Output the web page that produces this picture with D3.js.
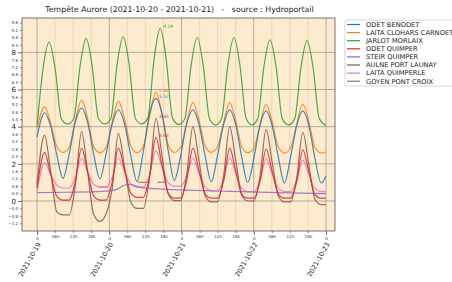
<!DOCTYPE html>
<html>
<head>
<meta charset="utf-8">
<script src="https://cdn.jsdelivr.net/npm/d3@7"></script>
<style>
  body { margin: 0; background: #fff; }
  text { font-family: "DejaVu Sans", sans-serif; }
</style>
</head>
<body>
<svg id="chart" width="452" height="282"></svg>
<script>
// ------ DATA (hours after 2021-10-19 00:00) ------

// sample times for the estuary / coastal stations
const coastTimes = [0, 2.5, 4.5, 6.6, 8.6, 10.7, 12.7, 14.8, 16.8, 18.8, 20.9, 22.9, 25.0,
  27.0, 29.1, 31.2, 33.2, 35.3, 37.4, 39.5, 41.5, 43.6, 45.6, 47.7, 49.7,
  51.8, 53.8, 55.9, 57.9, 59.9, 62.0, 64.0, 66.0, 68.0, 70.0, 72.1, 74.1,
  76.1, 78.1, 80.2, 82.2, 84.2, 86.3, 88.3, 90.3, 92.3, 94.4, 96.0];

// Morlaix peaks a bit later than the others
const morlaixTimes = [0, 2.0, 4.0, 6.0, 8.1, 10.2, 12.2, 14.3, 16.3, 18.3, 20.4, 22.5,
  24.5, 26.6, 28.6, 30.6, 32.7, 34.8, 36.8, 38.9, 40.9, 42.9, 45.0, 47.1,
  49.1, 51.2, 53.2, 55.2, 57.3, 59.3, 61.3, 63.4, 65.4, 67.4, 69.5, 71.4,
  73.3, 75.4, 77.4, 79.4, 81.5, 83.6, 85.6, 87.7, 89.7, 91.7, 93.8, 96.0];

const steirTimes = [0, 10, 20, 26, 29, 31, 34, 40, 50, 64, 80, 96];
const goyenTimes = [20.5, 23.5, 24, 33.5, 37.5, 38, 40, 43];

const odetBenodet = [3.45, 4.75, 4.04, 2.46, 1.22, 2.54, 4.24, 5.0, 4.24, 2.53, 1.2, 2.5, 4.16,
  4.9, 4.13, 2.4, 1.05, 2.66, 4.7, 5.52, 4.7, 2.7, 1.1, 2.43, 4.14,
  4.9, 4.13, 2.39, 1.04, 2.39, 4.13, 4.9, 4.12, 2.37, 1.0, 2.35, 4.08,
  4.85, 4.07, 2.33, 0.97, 2.33, 4.07, 4.85, 4.07, 2.33, 0.97, 1.35];

const laitaClohars = [3.9, 5.08, 4.22, 2.92, 2.62, 2.9, 4.31, 5.44, 4.45, 2.94, 2.6, 2.88, 4.27,
  5.38, 4.41, 2.93, 2.6, 2.93, 4.56, 5.86, 4.73, 3.01, 2.62, 2.89, 4.23,
  5.3, 4.36, 2.94, 2.62, 2.89, 4.23, 5.3, 4.36, 2.92, 2.6, 2.86, 4.16,
  5.2, 4.28, 2.89, 2.58, 2.84, 4.15, 5.2, 4.28, 2.89, 2.58, 2.65];

const jarlotMorlaix = [4.0, 7.14, 8.55, 7.14, 4.41, 4.15, 4.43, 7.28, 8.75, 7.28, 4.43, 4.15,
  4.43, 7.35, 8.85, 7.35, 4.43, 4.15, 4.46, 7.65, 9.29, 7.65, 4.46, 4.12,
  4.43, 7.31, 8.8, 7.31, 4.43, 4.1, 4.43, 7.31, 8.8, 7.31, 4.43, 4.1,
  4.42, 7.26, 8.67, 7.26, 4.42, 4.1, 4.42, 7.2, 8.63, 7.2, 4.42, 4.05];

const odetQuimper = [0.7, 2.6, 1.45, 0.25, 0.05, 0.05, 1.03, 2.85, 1.59, 0.27, 0.05, 0.05, 1.03,
  2.85, 1.66, 0.41, 0.2, 0.2, 1.33, 3.42, 1.95, 0.41, 0.15, 0.15, 1.1,
  2.85, 1.64, 0.37, 0.15, 0.15, 1.1, 2.85, 1.64, 0.37, 0.15, 0.15, 1.08,
  2.8, 1.61, 0.36, 0.15, 0.15, 1.06, 2.75, 1.58, 0.35, 0.15, 0.15];

const steirQuimper = [0.45, 0.47, 0.5, 0.6, 0.85, 0.9, 0.75, 0.65, 0.58, 0.52, 0.45, 0.4];

const aulnePortLaunay = [0.9, 3.55, 1.62, -0.6, -0.75, -0.75, 0.82, 3.73, 1.56, -0.71, -1.1, -0.7, 0.7,
  3.64, 1.82, -0.08, -0.4, -0.4, 1.3, 4.45, 2.46, 0.37, 0.02, 0.02, 1.41,
  4.0, 2.18, 0.27, -0.05, -0.05, 1.37, 4.0, 2.2, 0.32, 0.0, 0.0, 1.35,
  3.85, 2.1, 0.26, -0.05, -0.05, 1.26, 3.7, 1.95, 0.11, -0.2, -0.2];

const laitaQuimperle = [0.5, 2.05, 1.44, 0.84, 0.7, 0.7, 1.26, 2.3, 1.6, 0.9, 0.75, 0.75, 1.29,
  2.3, 1.6, 0.9, 0.75, 0.75, 1.43, 2.7, 1.85, 0.99, 0.8, 0.8, 1.33,
  2.3, 1.51, 0.73, 0.55, 0.55, 1.16, 2.3, 1.49, 0.68, 0.5, 0.5, 1.11,
  2.25, 1.46, 0.68, 0.5, 0.5, 1.1, 2.2, 1.44, 0.67, 0.5, 0.5];

// null = no measure
const goyenPontCroix = [0.75, 0.75, null, 1.0, 1.0, null, 1.0, 1.02];

const stationNames = ['ODET BENODET', 'LAITA CLOHARS CARNOET', 'JARLOT MORLAIX', 'ODET QUIMPER',
  'STEIR QUIMPER', 'AULNE PORT LAUNAY', 'LAITA QUIMPERLE', 'GOYEN PONT CROIX'];
const stationColors = ['#1f77b4', '#ff7f0e', '#2ca02c', '#d62728',
  '#9467bd', '#8c564b', '#e377c2', '#7f7f7f'];

// stations whose storm peak gets a label
const labelled = ['JARLOT MORLAIX', 'LAITA CLOHARS CARNOET', 'ODET BENODET', 'AULNE PORT LAUNAY', 'ODET QUIMPER'];

const yMinorTicks = d3.range(-12, 97, 4).map(d => d / 10).filter(d => d % 2 !== 0);
const yMajorTicks = [0, 2, 4, 6, 8];

// ------ BUILD SERIES ------

const t0 = Date.UTC(2021, 9, 19);
const toDate = h => new Date(t0 + h * 3600e3);

const series = [
  {times: coastTimes, values: odetBenodet},
  {times: coastTimes, values: laitaClohars},
  {times: morlaixTimes, values: jarlotMorlaix},
  {times: coastTimes, values: odetQuimper},
  {times: steirTimes, values: steirQuimper},
  {times: coastTimes, values: aulnePortLaunay},
  {times: coastTimes, values: laitaQuimperle},
  {times: goyenTimes, values: goyenPontCroix},
].map((s, i) => ({
  name: stationNames[i],
  color: stationColors[i],
  points: s.times.map((t, j) => ({date: toDate(t), value: s.values[j]}))
}));

// ------ CHART ------

const margin = {top: 18, right: 117, bottom: 51, left: 22};
const W = 452, H = 282;
const width = W - margin.left - margin.right,
      height = H - margin.top - margin.bottom;

const svg = d3.select('#chart');

const x = d3.scaleUtc()
  .domain([toDate(-5), toDate(99)])
  .range([margin.left, margin.left + width]);

const y = d3.scaleLinear()
  .domain([-1.615, 9.85])
  .range([margin.top + height, margin.top]);

// title
svg.append('text')
  .attr('x', margin.left + width / 2 + 1)
  .attr('y', 12)
  .attr('text-anchor', 'middle')
  .attr('xml:space', 'preserve')
  .style('font-size', '7.8px')
  .attr('fill', '#222')
  .text('Tempête Aurore (2021-10-20 - 2021-10-21)   -   source : Hydroportail');

// plot background
svg.append('rect')
  .attr('x', margin.left).attr('y', margin.top)
  .attr('width', width).attr('height', height)
  .attr('fill', '#fdebd0');

// grid
const xTicks = d3.utcHour.every(6).range(toDate(-5), toDate(99));
svg.append('g').selectAll('line')
  .data(xTicks)
  .join('line')
    .attr('x1', d => x(d)).attr('x2', d => x(d))
    .attr('y1', margin.top).attr('y2', margin.top + height)
    .attr('stroke', d => d.getUTCHours() === 0 ? '#aaa39a' : '#ead1ae')
    .attr('stroke-width', d => d.getUTCHours() === 0 ? 0.9 : 0.8);

svg.append('g').selectAll('line')
  .data(yMajorTicks)
  .join('line')
    .attr('x1', margin.left).attr('x2', margin.left + width)
    .attr('y1', d => y(d)).attr('y2', d => y(d))
    .attr('stroke', '#aaa39a')
    .attr('stroke-width', 0.9);

// lines
svg.append('clipPath').attr('id', 'clip')
  .append('rect')
  .attr('x', margin.left).attr('y', margin.top)
  .attr('width', width).attr('height', height);

const line = d3.line()
  .defined(d => d.value !== null)
  .x(d => x(d.date))
  .y(d => y(d.value))
  .curve(d3.curveMonotoneX);

// draw in reverse order so the first stations end up on top
svg.append('g')
  .attr('clip-path', 'url(#clip)')
  .selectAll('path')
  .data(series.slice().reverse())
  .join('path')
    .attr('fill', 'none')
    .attr('stroke', d => d.color)
    .attr('stroke-opacity', 0.85)
    .attr('stroke-width', 1.2)
    .attr('stroke-linejoin', 'round')
    .attr('d', d => line(d.points));

// peak labels
const peaks = series.filter(s => labelled.includes(s.name))
  .map(s => ({color: s.color, p: d3.greatest(s.points, d => d.value)}));
svg.append('g').selectAll('text')
  .data(peaks)
  .join('text')
    .attr('x', d => x(d.p.date) + 3)
    .attr('y', d => y(d.p.value) - 0.5)
    .style('font-size', '4.5px')
    .attr('fill', d => d.color)
    .text(d => d.p.value.toFixed(2));

// frame
svg.append('rect')
  .attr('x', margin.left).attr('y', margin.top)
  .attr('width', width).attr('height', height)
  .attr('fill', 'none')
  .attr('stroke', '#555')
  .attr('stroke-width', 0.8);

// y axis
const yMinor = svg.append('g')
  .attr('transform', `translate(${margin.left},0)`)
  .call(d3.axisLeft(y).tickValues(yMinorTicks).tickSize(2).tickPadding(2).tickFormat(d3.format('.1f')));
yMinor.select('.domain').remove();
yMinor.selectAll('text').style('font-size', '4px').attr('fill', '#333');
yMinor.selectAll('line').attr('stroke', '#444').attr('stroke-width', 0.6);

const yMajor = svg.append('g')
  .attr('transform', `translate(${margin.left},0)`)
  .call(d3.axisLeft(y).tickValues(yMajorTicks).tickSize(4).tickPadding(2).tickFormat(d3.format('d')));
yMajor.select('.domain').remove();
yMajor.selectAll('text').style('font-size', '7px').attr('fill', '#222');
yMajor.selectAll('line').attr('stroke', '#444').attr('stroke-width', 0.8);

// x axis
const hourTicks = xTicks.filter(d => d.getUTCHours() !== 0);
const dayTicks = xTicks.filter(d => d.getUTCHours() === 0);

const xMinor = svg.append('g')
  .attr('transform', `translate(0,${margin.top + height})`)
  .call(d3.axisBottom(x).tickValues(hourTicks).tickSize(2).tickPadding(2)
    .tickFormat(d => d3.utcFormat('%H')(d) + 'h'));
xMinor.select('.domain').remove();
xMinor.selectAll('text').style('font-size', '4px').attr('fill', '#333');
xMinor.selectAll('line').attr('stroke', '#444').attr('stroke-width', 0.6);

const xMajor = svg.append('g')
  .attr('transform', `translate(0,${margin.top + height})`)
  .call(d3.axisBottom(x).tickValues(dayTicks).tickSize(4).tickPadding(2).tickFormat(() => '0'));
xMajor.select('.domain').remove();
xMajor.selectAll('text').style('font-size', '4px').attr('fill', '#333');
xMajor.selectAll('line').attr('stroke', '#444').attr('stroke-width', 0.8);

svg.append('g').selectAll('text')
  .data(dayTicks)
  .join('text')
    .attr('transform', d => `translate(${x(d) + 2},${margin.top + height + 12}) rotate(-60)`)
    .attr('text-anchor', 'end')
    .attr('dy', '0.35em')
    .style('font-size', '6.6px')
    .attr('fill', '#222')
    .text(d3.utcFormat('%Y-%m-%d'));

// legend
const legend = svg.append('g').attr('transform', 'translate(345,20)');
legend.append('rect')
  .attr('width', 120).attr('height', 66)
  .attr('rx', 1.5)
  .attr('fill', '#fff')
  .attr('stroke', '#ccc')
  .attr('stroke-width', 0.8);

const item = legend.selectAll('g')
  .data(series)
  .join('g')
    .attr('transform', (d, i) => `translate(0,${4.5 + i * 8.1})`);
item.append('line')
  .attr('x1', 2).attr('x2', 15)
  .attr('stroke', d => d.color)
  .attr('stroke-width', 1.2);
item.append('text')
  .attr('x', 21)
  .attr('dy', '0.35em')
  .style('font-size', '6.7px')
  .attr('fill', '#222')
  .text(d => d.name);
</script>
</body>
</html>
